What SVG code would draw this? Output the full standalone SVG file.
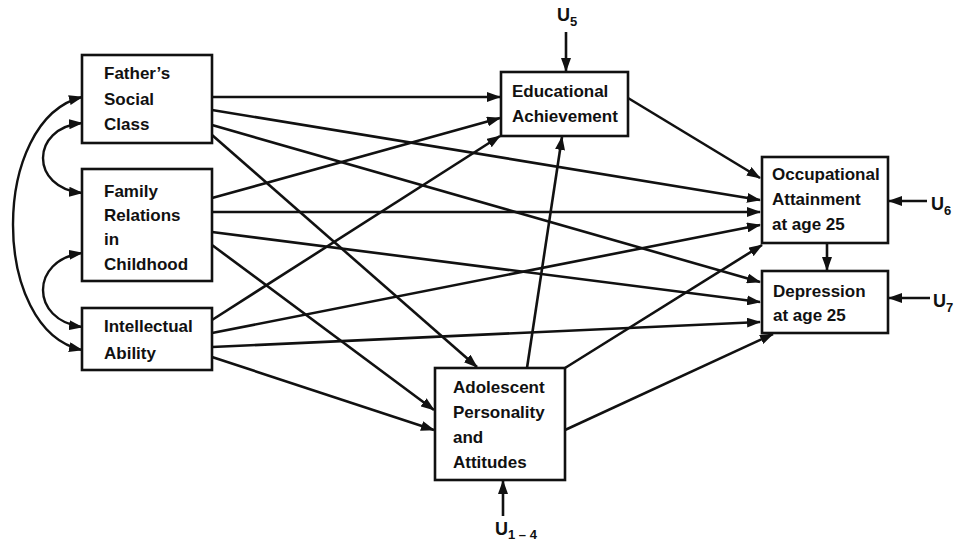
<svg xmlns="http://www.w3.org/2000/svg" width="956" height="546" viewBox="0 0 956 546">
<style>
.box{fill:#fff;stroke:#111;stroke-width:2.6}
.lbl{font-family:"Liberation Sans",Arial,sans-serif;font-weight:bold;font-size:17px;fill:#111}
.u{font-family:"Liberation Sans",Arial,sans-serif;font-weight:bold;font-size:18px;fill:#111}
.sub{font-size:13px}
.e{fill:none;stroke:#111;stroke-width:2.6;marker-end:url(#ah)}
.c{fill:none;stroke:#111;stroke-width:2.4;marker-end:url(#ah);marker-start:url(#ah)}
</style>
<defs>
<marker id="ah" markerUnits="userSpaceOnUse" markerWidth="14" markerHeight="10" refX="13" refY="5" orient="auto-start-reverse">
<path d="M0,0 L14,5 L0,10 z" fill="#111"/>
</marker>
</defs>
<rect width="956" height="546" fill="#fff"/>
<g id="connectors">
<path class="e" d="M212 97 L500 97"/>
<path class="e" d="M212 110 L760 200"/>
<path class="e" d="M212 125 L760 282"/>
<path class="e" d="M212 135 L477 367"/>
<path class="e" d="M212 198 L500 118"/>
<path class="e" d="M212 212 L760 212"/>
<path class="e" d="M212 232 L760 302"/>
<path class="e" d="M212 245 L434 410"/>
<path class="e" d="M212 320 L500 136"/>
<path class="e" d="M212 333 L760 225"/>
<path class="e" d="M212 347 L760 322"/>
<path class="e" d="M212 357 L434 430"/>
<path class="e" d="M628 98 L760 178"/>
<path class="e" d="M527 368 L562 137"/>
<path class="e" d="M565 368 L762 245"/>
<path class="e" d="M565 430 L773 334"/>
<path class="e" d="M827 243 L827 270"/>
<path class="e" d="M566 32 L566 71"/>
<path class="e" d="M927 201 L889 201"/>
<path class="e" d="M930 298 L889 298"/>
<path class="e" d="M503 516 L503 481"/>
<path class="c" d="M82 123 C30 128 30 188 82 193"/>
<path class="c" d="M82 253 C30 260 30 320 82 327"/>
<path class="c" d="M82 97 C-10 120 -10 330 82 350"/>
</g>
<g id="father">
<rect class="box" x="82" y="55" width="130" height="88"/>
<text class="lbl" x="104" y="79">Father’s</text>
<text class="lbl" x="104" y="105">Social</text>
<text class="lbl" x="104" y="130">Class</text>
</g>
<g id="family">
<rect class="box" x="82" y="169" width="130" height="112"/>
<text class="lbl" x="104" y="197">Family</text>
<text class="lbl" x="104" y="221">Relations</text>
<text class="lbl" x="104" y="245">in</text>
<text class="lbl" x="104" y="270">Childhood</text>
</g>
<g id="intellect">
<rect class="box" x="82" y="308" width="130" height="62"/>
<text class="lbl" x="104" y="332">Intellectual</text>
<text class="lbl" x="104" y="359">Ability</text>
</g>
<g id="education">
<rect class="box" x="501" y="72" width="127" height="64"/>
<text class="lbl" x="512" y="97">Educational</text>
<text class="lbl" x="512" y="122">Achievement</text>
</g>
<g id="occupation">
<rect class="box" x="762" y="157" width="126" height="86"/>
<text class="lbl" x="772" y="180">Occupational</text>
<text class="lbl" x="772" y="205">Attainment</text>
<text class="lbl" x="772" y="230">at age 25</text>
</g>
<g id="depression">
<rect class="box" x="762" y="271" width="126" height="62"/>
<text class="lbl" x="773" y="297">Depression</text>
<text class="lbl" x="773" y="321">at age 25</text>
</g>
<g id="adolescent">
<rect class="box" x="435" y="368" width="130" height="112"/>
<text class="lbl" x="453" y="393">Adolescent</text>
<text class="lbl" x="453" y="418">Personality</text>
<text class="lbl" x="453" y="443">and</text>
<text class="lbl" x="453" y="468">Attitudes</text>
</g>
<g id="u5"><text class="u" x="557" y="21">U<tspan class="sub" dy="5">5</tspan></text></g>
<g id="u6"><text class="u" x="931" y="210">U<tspan class="sub" dy="5">6</tspan></text></g>
<g id="u7"><text class="u" x="933" y="307">U<tspan class="sub" dy="5">7</tspan></text></g>
<g id="u14"><text class="u" x="495" y="535">U<tspan class="sub" dy="4">1 – 4</tspan></text></g>
</svg>
